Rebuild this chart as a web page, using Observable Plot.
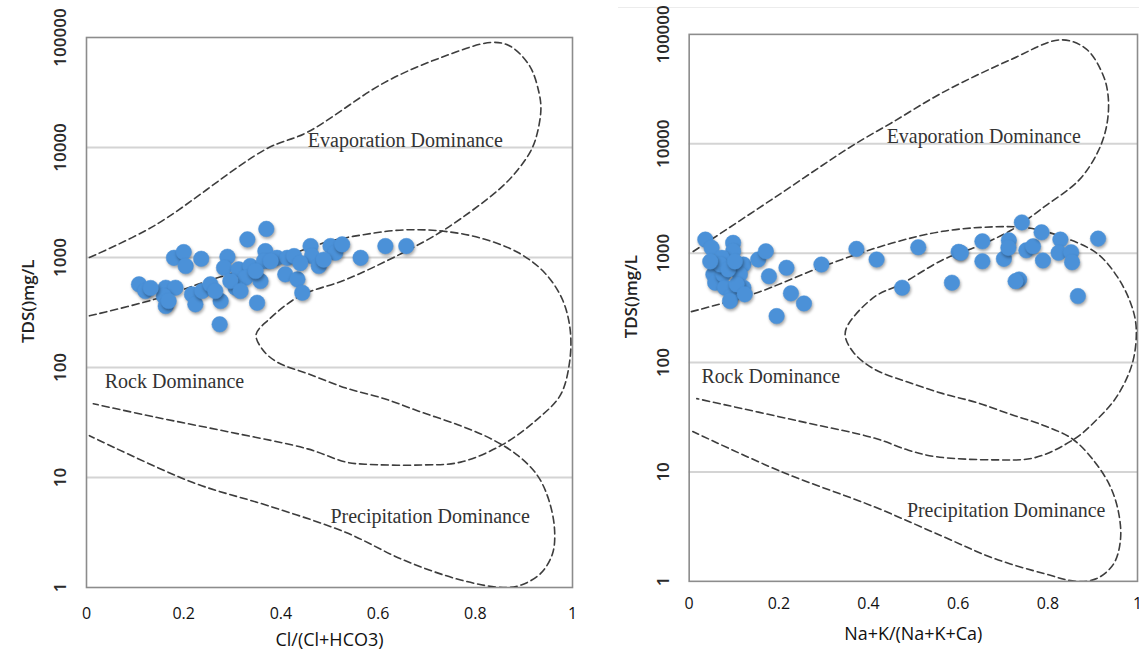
<!DOCTYPE html>
<html>
<head>
<meta charset="utf-8">
<script src="https://cdn.jsdelivr.net/npm/d3@7"></script>
<script src="https://cdn.jsdelivr.net/npm/@observablehq/plot@0.6"></script>
<style>
  html, body { margin: 0; padding: 0; background: #fff; }
  #wrap { position: relative; width: 1139px; height: 655px; overflow: hidden; background: #fff; }
  #left { position: absolute; left: 0; top: 0; }
  #right { position: absolute; left: 600px; top: 0; }
  #topline { position: absolute; left: 618px; top: 7px; width: 521px; height: 1px; background: #ececec; }
  svg { overflow: visible; }
</style>
</head>
<body>
<div id="wrap">
  <div id="topline"></div>
  <div id="left"></div>
  <div id="right"></div>
</div>
<script>
// ---------- Data ----------
const yTicks = [1, 10, 100, 1000, 10000, 100000];
const yTickLabels = ["1", "10", "100", "1000", "10000", "100000"];
const gridTDS = [10, 100, 1000, 10000];
const xTicks = [0, 0.2, 0.4, 0.6, 0.8, 1];
const xTickLabels = ["0", "0.2", "0.4", "0.6", "0.8", "1"];
const yTitle = "TDS()mg/L";
const leftXTitle = "Cl/(Cl+HCO3)";
const rightXTitle = "Na+K/(Na+K+Ca)";
const regionNames = ["Evaporation Dominance", "Rock Dominance", "Precipitation Dominance"];

// Left panel samples: Cl/(Cl+HCO3) vs TDS
const leftRatio = [0.370,0.331,0.180,0.200,0.204,0.236,0.290,0.283,0.313,0.337,0.368,0.392,0.413,0.409,0.365,0.327,0.358,0.307,0.108,0.121,0.163,0.183,0.159,0.163,0.217,0.224,0.238,0.255,0.276,0.274,0.351,0.427,0.461,0.464,0.478,0.502,0.512,0.526,0.564,0.615,0.658,0.434,0.444,0.488,0.379,0.348,0.132,0.169,0.296,0.317,0.440,0.265];
const leftTDS = [1820,1460,993,1120,836,973,1015,806,780,836,1143,993,993,703,927,654,611,531,570,496,531,531,446,362,462,375,496,570,402,247,388,1030,1270,1030,836,1270,1104,1315,993,1270,1270,633,478,955,927,753,528,402,611,496,889,496];

// Right panel samples: Na+K/(Na+K+Ca) vs TDS
const rightRatio = [0.036,0.050,0.098,0.098,0.073,0.062,0.054,0.058,0.076,0.121,0.113,0.080,0.095,0.121,0.106,0.091,0.154,0.171,0.178,0.217,0.227,0.256,0.195,0.295,0.069,0.373,0.418,0.511,0.601,0.606,0.586,0.475,0.654,0.654,0.702,0.713,0.712,0.742,0.752,0.767,0.736,0.728,0.786,0.789,0.828,0.824,0.852,0.854,0.867,0.912,0.087,0.102,0.124,0.047];
const rightTDS = [1330,1118,1242,1040,906,735,638,537,638,787,638,483,405,483,518,365,875,1040,616,735,429,347,266,787,787,1094,875,1132,1028,1007,537,483,1283,844,887,1310,1118,1910,1062,1156,575,555,1550,857,1330,1007,1019,826,405,1358,708,838,420,838];

// Gibbs boundary curves (x ratio, TDS)
const leftCurveA = [[0.006,1000],[0.14,1950],[0.369,9660],[0.455,13800],[0.613,38900],[0.731,66100],[0.833,90200],[0.872,83200],[0.912,55000],[0.931,31600],[0.935,22400],[0.928,13800],[0.916,9660],[0.888,6310],[0.849,4170],[0.739,1820],[0.652,1110],[0.534,631],[0.439,447],[0.376,275],[0.349,200],[0.361,148],[0.392,112],[0.455,88],[0.534,65],[0.613,52],[0.691,39],[0.77,29.5],[0.833,22.4],[0.888,15.8],[0.928,10.4],[0.951,6.3],[0.963,3.4],[0.959,2.04],[0.935,1.35],[0.896,1.06],[0.857,1.0],[0.77,1.17],[0.652,1.78],[0.534,3.16],[0.376,5.5],[0.219,9.0],[0.006,24]];
const leftCurveB = [[0.006,295],[0.14,417],[0.258,631],[0.376,902],[0.494,1380],[0.573,1620],[0.652,1780],[0.731,1740],[0.809,1510],[0.888,1110],[0.943,724],[0.979,417],[0.995,224],[0.994,112],[0.975,56],[0.928,34],[0.857,20],[0.77,13.8],[0.691,13.0],[0.573,13.2],[0.534,13.8],[0.455,18.2],[0.298,25.7],[0.14,35.5],[0.014,46.8]];
const rightCurveA = [[0.009,1035],[0.184,3090],[0.367,9770],[0.451,15500],[0.566,29500],[0.718,58900],[0.829,89100],[0.886,73300],[0.924,41700],[0.935,25700],[0.931,14500],[0.912,8510],[0.870,4680],[0.794,2690],[0.718,1620],[0.642,1150],[0.566,871],[0.474,525],[0.413,398],[0.355,224],[0.348,176],[0.367,123],[0.413,87],[0.489,66],[0.566,52],[0.642,43],[0.718,33.5],[0.794,26.3],[0.855,20],[0.901,12.9],[0.939,7.4],[0.958,4.2],[0.962,2.4],[0.947,1.45],[0.909,1.06],[0.863,1.0],[0.794,1.17],[0.680,1.62],[0.566,2.57],[0.413,4.8],[0.207,10],[0.008,23.4]];
const rightCurveB = [[0.005,292],[0.146,427],[0.299,759],[0.451,1230],[0.566,1585],[0.680,1740],[0.756,1700],[0.832,1410],[0.909,1000],[0.954,617],[0.985,347],[0.997,210],[0.989,100],[0.954,49],[0.909,30],[0.859,20],[0.771,13.5],[0.68,12.9],[0.550,13.8],[0.489,15.8],[0.413,20.4],[0.261,28.2],[0.017,46.8]];

// Region label anchor positions (data units)
const leftLabelX = [0.656, 0.181, 0.707];
const leftLabelTDS = [11500, 74, 4.45];
const rightLabelX = [0.657, 0.182, 0.707];
const rightLabelTDS = [11700, 74, 4.43];
const yTitleTDS = 400;

// ---------- Drawing ----------
const dotColor = "#4b91d8";
function panel(opts) {
  const pts = opts.xs.map((x, i) => ({x, y: opts.ys[i]}));
  const toObj = arr => arr.map(([x, y]) => ({x, y}));
  const labels = regionNames.map((t, i) => ({t, x: opts.lx[i], y: opts.ly[i]}));
  const tickData = yTicks.map((v, i) => ({v, t: yTickLabels[i]}));
  const xTickData = xTicks.map((v, i) => ({v, t: xTickLabels[i]}));
  const dash = {x: "x", y: "y", curve: "catmull-rom", stroke: "#3d3d3d", strokeWidth: 1.6, strokeDasharray: "7,4", clip: true};
  const svg = Plot.plot({
    width: opts.width,
    height: 655,
    marginLeft: opts.ml,
    marginRight: opts.mr,
    marginTop: opts.mt,
    marginBottom: opts.mb,
    x: {domain: [0, 1], axis: null},
    y: {type: "log", domain: [1, 100000], axis: null},
    style: {fontFamily: "'Open Sans', sans-serif", background: "transparent"},
    marks: [
      Plot.ruleY(gridTDS, {stroke: "#d4d4d4", strokeWidth: 2}),
      Plot.frame({stroke: "#8c8c8c", strokeWidth: 1.6}),
      Plot.line(toObj(opts.ca), dash),
      Plot.line(toObj(opts.cb), dash),
      Plot.dot(pts, {x: "x", y: "y", r: 7.8, fill: dotColor, stroke: dotColor, strokeWidth: 0.5}),
      Plot.text(labels, {x: "x", y: "y", text: "t", fontFamily: "'Liberation Serif', 'Times New Roman', serif", fontSize: 20, fill: "#333"}),
      Plot.text(tickData, {y: "v", text: "t", frameAnchor: "left", textAnchor: "middle", lineAnchor: "middle", dx: -26, rotate: -90, fontSize: 17, fontWeight: 600, fill: "#2a2a2a"}),
      Plot.text(xTickData, {x: "v", text: "t", frameAnchor: "bottom", textAnchor: "middle", lineAnchor: "middle", dy: opts.tdy, fontSize: 16, fill: "#111"}),
      Plot.text([yTitle], {y: () => yTitleTDS, text: d => d, frameAnchor: "left", textAnchor: "middle", lineAnchor: "middle", dx: -58, rotate: -90, fontSize: 17, fontWeight: 600, fill: "#222"}),
      Plot.text([opts.xtitle], {x: () => 0.5, text: d => d, frameAnchor: "bottom", textAnchor: "middle", lineAnchor: "middle", dy: opts.ldy, fontSize: 18, fill: "#111"})
    ]
  });
  d3.select(svg).selectAll("circle").style("filter", "drop-shadow(1px 2px 1.5px rgba(0,0,0,0.35))");
  return svg;
}

document.getElementById("left").appendChild(panel({
  width: 600, ml: 86, mr: 28, mt: 37, mb: 68,
  xs: leftRatio, ys: leftTDS, ca: leftCurveA, cb: leftCurveB,
  lx: leftLabelX, ly: leftLabelTDS, xtitle: leftXTitle, tdy: 26, ldy: 53
}));
document.getElementById("right").appendChild(panel({
  width: 541, ml: 89, mr: 2, mt: 34, mb: 72,
  xs: rightRatio, ys: rightTDS, ca: rightCurveA, cb: rightCurveB,
  lx: rightLabelX, ly: rightLabelTDS, xtitle: rightXTitle, tdy: 23, ldy: 53
}));
</script>
</body>
</html>
